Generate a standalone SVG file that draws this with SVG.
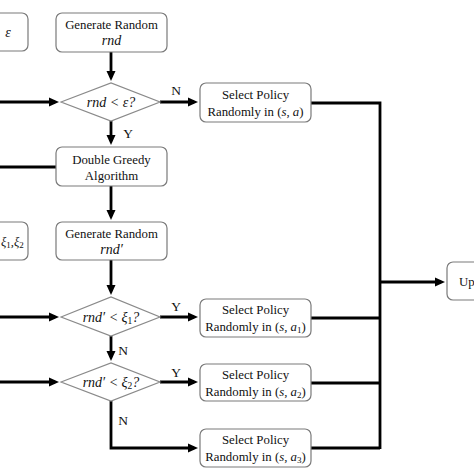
<svg xmlns="http://www.w3.org/2000/svg" width="474" height="474" viewBox="0 0 474 474">
<defs>
<marker id="ah" markerUnits="userSpaceOnUse" markerWidth="12" markerHeight="10" viewBox="0 -5 12 10" refX="6" refY="0" orient="auto">
<path d="M0,-4.5 L10,0 L0,4.5 z" fill="#000"/>
</marker>
<style>
.box{fill:#fff;stroke:#7a7a7a;stroke-width:1.2}
.dia{fill:#fff;stroke:#8a8a8a;stroke-width:1.2}
.t{font-family:"Liberation Serif","Times New Roman",serif;font-size:12.8px;fill:#111;text-anchor:middle}
.d{font-size:14px}
.m{font-style:italic}
.lbl{font-family:"Liberation Serif","Times New Roman",serif;font-size:13.5px;fill:#111;text-anchor:middle}
.c{fill:none;stroke:#000;stroke-width:2.8}
.ca{fill:none;stroke:#000;stroke-width:2.8;marker-end:url(#ah)}
</style>
</defs>
<rect width="474" height="474" fill="#fff"/>

<g id="connectors">
<path class="ca" d="M111,52 V77"/>
<path class="ca" d="M0,102 H55"/>
<path class="ca" d="M160,102 H194"/>
<path class="ca" d="M111,121 V141"/>
<path class="c" d="M56,167 H0"/>
<path class="ca" d="M111,186 V216"/>
<path class="ca" d="M111,260 V291"/>
<path class="ca" d="M0,317 H55"/>
<path class="ca" d="M160,317 H194"/>
<path class="ca" d="M111,336 V357"/>
<path class="ca" d="M0,382 H55"/>
<path class="ca" d="M160,382 H194"/>
<path class="ca" d="M111,401 V448 H194"/>
<path class="c" d="M311,103 H380 V449"/>
<path class="c" d="M311,318 H380"/>
<path class="c" d="M311,383 H380"/>
<path class="c" d="M311,448 H380"/>
<path class="ca" d="M380,282 H441"/>
<text class="lbl" x="176" y="95">N</text>
<text class="lbl" x="128" y="138">Y</text>
<text class="lbl" x="176" y="311">Y</text>
<text class="lbl" x="123" y="355">N</text>
<text class="lbl" x="176" y="377">Y</text>
<text class="lbl" x="123" y="425">N</text>
</g>

<g id="init-eps">
<rect class="box" x="-40" y="13" width="68" height="38" rx="6"/>
<text class="t d m" x="8" y="37">ε</text>
</g>

<g id="gen-rnd">
<rect class="box" x="56" y="13" width="111" height="39" rx="6"/>
<text class="t" x="111.5" y="29">Generate Random</text>
<text class="t d m" x="111.5" y="45">rnd</text>
</g>

<g id="dec1">
<polygon class="dia" points="61,102 111,83 160,102 111,121"/>
<text class="t d m" x="111" y="106.5">rnd &lt; ε?</text>
</g>

<g id="sel-a">
<rect class="box" x="200" y="83" width="111" height="39" rx="6"/>
<text class="t" x="255.5" y="99">Select Policy</text>
<text class="t" x="255.5" y="116">Randomly in (<tspan class="m">s</tspan>, <tspan class="m">a</tspan>)</text>
</g>

<g id="dga">
<rect class="box" x="56" y="147" width="111" height="39" rx="6"/>
<text class="t" x="111.5" y="164">Double Greedy</text>
<text class="t" x="111.5" y="180">Algorithm</text>
</g>

<g id="init-xi">
<rect class="box" x="-40" y="222" width="68" height="38" rx="6"/>
<text class="t m" x="1" y="246" style="text-anchor:start;font-size:12.5px">ξ<tspan font-size="9" dy="2" font-style="normal">1</tspan><tspan dy="-2">,ξ</tspan><tspan font-size="9" dy="2" font-style="normal">2</tspan></text>
</g>

<g id="gen-rnd2">
<rect class="box" x="56" y="222" width="111" height="38" rx="6"/>
<text class="t" x="111.5" y="238">Generate Random</text>
<text class="t d m" x="111.5" y="254">rnd′</text>
</g>

<g id="dec2">
<polygon class="dia" points="61,317 111,297 160,317 111,336"/>
<text class="t d m" x="111" y="321.5">rnd′ &lt; ξ<tspan font-size="9.5" dy="2" font-style="normal">1</tspan><tspan dy="-2">?</tspan></text>
</g>

<g id="sel-a1">
<rect class="box" x="200" y="299" width="111" height="38" rx="6"/>
<text class="t" x="255.5" y="314">Select Policy</text>
<text class="t" x="255.5" y="331">Randomly in (<tspan class="m">s</tspan>, <tspan class="m">a</tspan><tspan font-size="9" dy="2">1</tspan><tspan dy="-2">)</tspan></text>
</g>

<g id="dec3">
<polygon class="dia" points="61,382 111,363 160,382 111,401"/>
<text class="t d m" x="111" y="386.5">rnd′ &lt; ξ<tspan font-size="9.5" dy="2" font-style="normal">2</tspan><tspan dy="-2">?</tspan></text>
</g>

<g id="sel-a2">
<rect class="box" x="200" y="364" width="111" height="37" rx="6"/>
<text class="t" x="255.5" y="379">Select Policy</text>
<text class="t" x="255.5" y="396">Randomly in (<tspan class="m">s</tspan>, <tspan class="m">a</tspan><tspan font-size="9" dy="2">2</tspan><tspan dy="-2">)</tspan></text>
</g>

<g id="sel-a3">
<rect class="box" x="200" y="429" width="111" height="38" rx="6"/>
<text class="t" x="255.5" y="444">Select Policy</text>
<text class="t" x="255.5" y="461">Randomly in (<tspan class="m">s</tspan>, <tspan class="m">a</tspan><tspan font-size="9" dy="2">3</tspan><tspan dy="-2">)</tspan></text>
</g>

<g id="update">
<rect class="box" x="447" y="262" width="60" height="38" rx="6"/>
<text class="t" x="459" y="286" style="text-anchor:start">Up</text>
</g>
</svg>
